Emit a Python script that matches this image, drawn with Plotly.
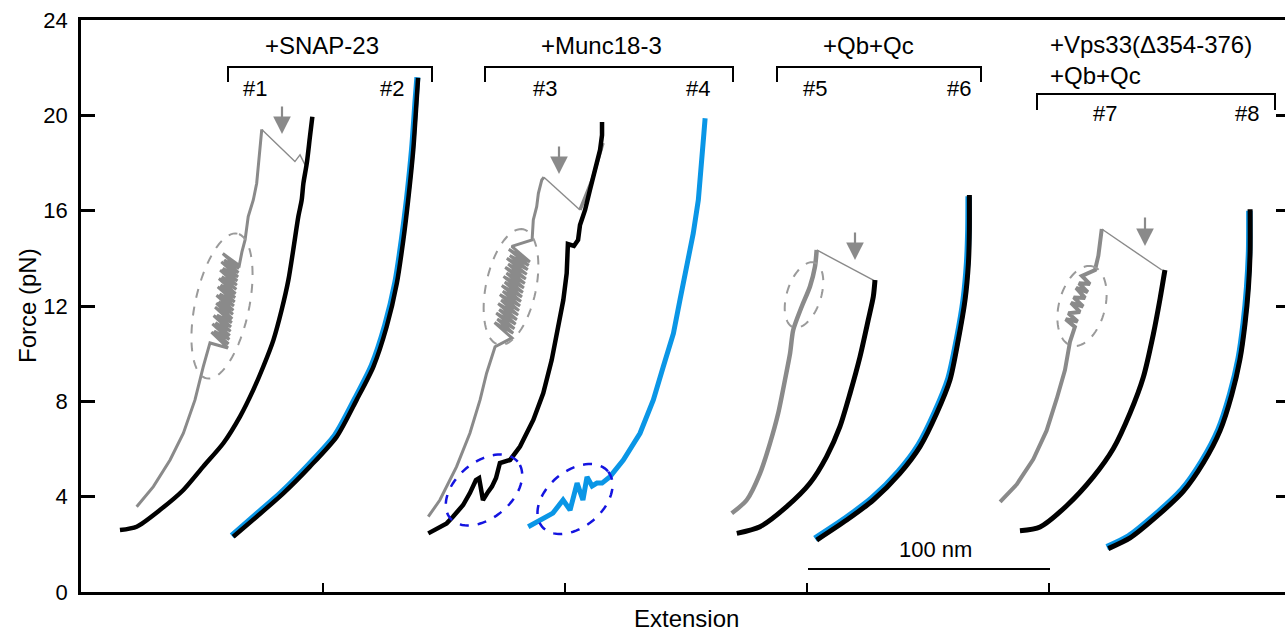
import numpy as np
import plotly.graph_objects as go

# ---------------- data: extension (nm) and force (pN) ----------------
# molecule #1 (gray: first pull, black: second pull)
g1_ext = [23.0, 29.9, 36.8, 42.3, 47.1, 50.5, 53.3,
          60.7, 53.9, 61.0, 55.0, 61.3, 54.3, 61.5, 55.6, 61.8, 54.8, 62.0, 56.2,
          62.3, 55.4, 62.5, 55.9, 62.8, 56.9, 63.0, 56.0, 63.2, 57.3, 63.5, 56.5,
          63.7, 57.7, 63.9, 57.0, 64.2, 58.2, 64.4, 57.5, 64.6, 58.6, 64.9, 58.0,
          65.1, 59.2, 65.3, 58.6, 65.4,
          66.5, 67.8, 69.1, 71.2, 72.6, 73.3, 74.0, 74.7]
g1_f = [3.58, 4.42, 5.54, 6.66, 8.06, 9.45, 10.45,
        10.24, 10.90, 10.41, 10.95, 10.60, 11.25, 10.76, 11.30, 10.94, 11.60, 11.12, 11.62,
        11.30, 11.95, 11.46, 12.12, 11.65, 12.18, 11.82, 12.45, 12.00, 12.50, 12.17, 12.80,
        12.35, 12.88, 12.52, 13.15, 12.70, 13.22, 12.88, 13.50, 13.05, 13.58, 13.22, 13.85,
        13.40, 13.93, 13.58, 14.20, 13.70,
        14.27, 14.77, 15.75, 16.45, 17.15, 17.85, 18.55, 19.41]
g1_relax_ext = [74.7, 88.4, 90.5, 92.6]
g1_relax_f = [19.41, 18.06, 18.34, 17.92]
k1_ext = [16.1, 23.0, 32.6, 42.3, 50.5, 58.8, 65.7, 71.2, 75.3, 79.5, 82.9, 85.7,
          87.7, 89.8, 91.2, 91.9, 93.3, 94.6, 95.6]
k1_f = [2.60, 2.74, 3.44, 4.28, 5.26, 6.24, 7.36, 8.48, 9.45, 10.57, 11.83, 13.09,
        14.35, 15.75, 16.45, 17.15, 17.99, 19.10, 19.94]

# molecule #2 (blue: first pull, black: second pull)
b2_ext = [62.3, 72.0, 83.0, 94.0, 105.0, 113.3, 120.2, 125.7, 129.9, 132.6, 134.7, 136.8, 138.3, 139.0]
b2_f = [2.36, 3.22, 4.20, 5.33, 6.58, 8.12, 9.52, 11.20, 13.00, 14.80, 16.50, 18.60, 20.70, 21.60]
k2_ext = [62.9, 72.6, 83.6, 94.6, 105.7, 113.9, 120.8, 126.3, 130.5, 133.2, 135.2, 137.3, 138.7, 139.3]
k2_f = [2.32, 3.16, 4.14, 5.26, 6.52, 8.06, 9.45, 11.13, 12.95, 14.77, 16.45, 18.55, 20.64, 21.57]

# molecule #3
g3_ext = [143.5, 148.3, 155.2, 160.7, 164.9, 167.6, 171.1,
          178.1, 170.9, 178.6, 172.0, 179.1, 171.6, 179.6, 172.8, 180.1, 172.4, 180.6, 173.6,
          181.0, 173.1, 181.4, 174.3, 181.8, 173.9, 182.2, 175.1, 182.6, 174.6, 183.0, 175.8,
          183.4, 175.3, 183.8, 176.5, 184.2, 176.0, 184.6, 177.2, 185.0, 176.8, 185.5, 178.0,
          186.4, 186.9, 188.3, 189.0, 190.4, 191.3]
g3_f = [3.16, 3.86, 5.26, 6.66, 8.06, 9.18, 10.29,
        10.66, 11.30, 10.86, 11.45, 11.05, 11.70, 11.24, 11.85, 11.43, 12.10, 11.62, 12.25,
        11.81, 12.48, 12.00, 12.62, 12.19, 12.86, 12.38, 13.00, 12.57, 13.24, 12.76, 13.38,
        12.95, 13.62, 13.14, 13.76, 13.33, 14.00, 13.52, 14.12, 13.70, 14.38, 13.85, 14.50,
        14.77, 15.61, 16.17, 16.73, 17.29, 17.40]
g3_relax_ext = [191.3, 206.2]
g3_relax_f = [17.40, 16.03]
g3_tail_ext = [206.2, 208.3, 211.2, 213.6, 215.7]
g3_tail_f = [16.03, 16.57, 17.29, 18.13, 18.84]
k3_ext = [143.5, 151.1, 153.7, 157.9, 160.7, 163.2, 164.5, 166.1, 168.2, 169.8, 171.5, 172.3,
          173.1, 177.3, 181.4, 186.9, 191.0, 194.5, 197.2, 199.3, 200.7, 200.8, 201.2, 203.7,
          205.4, 206.2, 208.3, 210.3, 212.4, 214.5, 215.3, 215.3]
k3_f = [2.46, 2.88, 3.16, 3.65, 4.15, 4.70, 4.78, 3.86, 4.20, 4.42, 4.78, 5.12,
        5.41, 5.54, 6.10, 7.22, 8.34, 9.73, 11.13, 12.25, 13.37, 14.35, 14.60, 14.52,
        14.77, 15.40, 16.03, 16.87, 17.71, 18.55, 19.17, 19.72]

# molecule #4
b4_ext = [184.8, 189.7, 195.0, 199.2, 202.1, 205.0, 207.4, 209.1, 211.2, 213.2, 215.3, 218.6,
          224.1, 231.0, 236.5, 240.6, 244.8, 247.5, 250.3, 253.0, 255.1, 256.5, 257.4, 257.9]
b4_f = [2.74, 3.02, 3.31, 3.86, 3.44, 4.57, 3.86, 4.83, 4.45, 4.57, 4.57, 4.84,
        5.54, 6.66, 8.06, 9.45, 10.85, 12.25, 13.65, 15.05, 16.45, 17.85, 19.25, 19.88]

# molecule #5
g5_ext = [268.9, 275.1, 280.6, 284.7, 288.1, 290.9, 293.0, 294.3, 297.8, 301.2, 303.3, 304.0]
g5_f = [3.30, 3.86, 4.98, 6.24, 7.50, 8.90, 10.01, 10.99, 11.97, 12.81, 13.65, 14.35]
g5_relax_ext = [304.0, 327.4]
g5_relax_f = [14.35, 13.09]
k5_ext = [271.0, 280.6, 291.6, 301.2, 308.1, 313.6, 317.8, 321.9, 325.3, 327.4, 328.1]
k5_f = [2.46, 2.74, 3.58, 4.56, 5.68, 6.94, 8.34, 9.87, 11.41, 12.39, 13.09]

# molecule #6
b6_ext = [303.3, 315.8, 326.8, 337.8, 346.1, 353.0, 358.5, 362.0, 364.8, 366.2, 366.7, 366.8]
b6_f = [2.24, 3.08, 3.92, 5.04, 6.16, 7.56, 8.96, 10.60, 12.30, 13.85, 15.20, 16.60]
k6_ext = [304.0, 316.4, 327.4, 338.4, 346.7, 353.6, 359.1, 362.5, 365.3, 366.7, 367.1, 367.1]
k6_f = [2.18, 3.02, 3.86, 4.98, 6.10, 7.50, 8.90, 10.57, 12.25, 13.79, 15.19, 16.66]

# molecule #7
g7_ext = [379.8, 386.7, 393.5, 399.0, 403.2, 406.6, 408.7, 410.7,
          406.9, 411.8, 408.0, 412.8, 409.1, 414.1, 410.2, 414.9, 411.2, 416.0, 412.4,
          416.9, 413.6, 419.0, 420.4, 421.1, 421.8]
g7_f = [3.78, 4.52, 5.57, 6.77, 8.11, 9.31, 10.51, 11.12,
        11.45, 11.35, 11.70, 11.75, 12.13, 11.98, 12.36, 12.34, 12.76, 12.58, 12.95,
        12.92, 13.26, 13.51, 14.11, 14.71, 15.23]
g7_relax_ext = [421.8, 446.6]
g7_relax_f = [15.23, 13.51]
k7_ext = [388.0, 396.3, 407.3, 418.3, 426.6, 433.5, 439.0, 443.1, 445.9, 447.9]
k7_f = [2.57, 2.73, 3.62, 4.83, 6.02, 7.51, 9.02, 10.81, 12.31, 13.51]

# molecule #8
b8_ext = [423.9, 432.9, 443.9, 454.9, 463.2, 470.1, 474.9, 478.4, 480.5, 481.9, 482.7, 482.8]
b8_f = [1.88, 2.33, 3.23, 4.28, 5.48, 6.82, 8.30, 9.80, 11.30, 12.80, 14.30, 16.00]
k8_ext = [424.5, 433.5, 444.5, 455.5, 463.8, 470.7, 475.5, 478.9, 481.0, 482.4, 483.1, 483.1]
k8_f = [1.82, 2.27, 3.17, 4.22, 5.42, 6.77, 8.27, 9.76, 11.26, 12.76, 14.27, 16.06]

y_ticks = [0, 4, 8, 12, 16, 20, 24]
x_ticks = [100, 200, 300, 400]
group_labels = ["+SNAP-23", "+Munc18-3", "+Qb+Qc", "+Vps33(\u0394354-376)"]
trace_labels = ["#1", "#2", "#3", "#4", "#5", "#6", "#7", "#8"]

# ---------------- styling ----------------
GRAY = "#8a8a8a"
BLUE = "#0a96e6"
BLACK = "#000000"
FONT = "Liberation Sans, Arial, sans-serif"

W, H = 1285, 633
L, R, T, B = 81, 0, 20, 41
X_MAX = (W - L - R) / 2.42
Y_MAX = 24
PX_NM = (W - L - R) / X_MAX
PX_PN = (H - T - B) / Y_MAX


def dx(px):
    return (px - L) / PX_NM


def dy(py):
    return (H - B - py) / PX_PN


fig = go.Figure()


def line(x, y, color, width, smooth=False):
    ln = dict(color=color, width=width)
    if smooth:
        ln.update(shape="spline", smoothing=0.7)
    fig.add_trace(go.Scatter(x=x, y=y, mode="lines", showlegend=False, hoverinfo="skip",
                             line=ln))


# gray (first pulls)
line(g1_ext, g1_f, GRAY, 3)
line(g1_relax_ext, g1_relax_f, GRAY, 1.4)
line(g3_ext, g3_f, GRAY, 3)
line(g3_relax_ext, g3_relax_f, GRAY, 1.4)
line(g3_tail_ext, g3_tail_f, GRAY, 3.5)
line(g5_ext, g5_f, GRAY, 4.5, True)
line(g5_relax_ext, g5_relax_f, GRAY, 1.4)
line(g7_ext, g7_f, GRAY, 4)
line(g7_relax_ext, g7_relax_f, GRAY, 1.4)
# blue
line(b2_ext, b2_f, BLUE, 6, True)
line(b4_ext, b4_f, BLUE, 5)
line(b6_ext, b6_f, BLUE, 6.5, True)
line(b8_ext, b8_f, BLUE, 6.5, True)
# black
line(k1_ext, k1_f, BLACK, 4.5, True)
line(k2_ext, k2_f, BLACK, 4.5, True)
line(k3_ext, k3_f, BLACK, 4.5)
line(k5_ext, k5_f, BLACK, 5, True)
line(k6_ext, k6_f, BLACK, 5, True)
line(k7_ext, k7_f, BLACK, 5, True)
line(k8_ext, k8_f, BLACK, 5, True)
# carrier for the right-hand tick axis
fig.add_trace(go.Scatter(x=[None], y=[None], yaxis="y2", showlegend=False, hoverinfo="skip"))

shapes = []


def ellipse(cx, cy, a, b, theta, color, width):
    t = np.linspace(0, 2 * np.pi, 81)
    th = np.radians(theta)
    px = cx + a * np.cos(th) * np.cos(t) - b * np.sin(th) * np.sin(t)
    py = cy - (a * np.sin(th) * np.cos(t) + b * np.cos(th) * np.sin(t))
    pts = " L ".join(f"{dx(u):.3f},{dy(v):.3f}" for u, v in zip(px, py))
    shapes.append(dict(type="path", path="M " + pts + " Z", xref="x", yref="y",
                       line=dict(color=color, width=width, dash="dash")))


EG = "#9a9a9a"
ellipse(222, 306, 74, 27, 78, EG, 2)
ellipse(511, 287, 59, 25, 78, EG, 2)
ellipse(804, 295, 34, 17, 72, EG, 2)
ellipse(1082, 306, 41, 23, 75, EG, 2)
EB = "#1414e0"
ellipse(484, 490, 44, 28, 40, EB, 2.5)
ellipse(575, 499, 43, 28, 40, EB, 2.5)


def bracket(x0, x1, yl, ye):
    shapes.append(dict(type="path", xref="x", yref="y",
                       path=f"M {dx(x0)},{dy(ye)} L {dx(x0)},{dy(yl)} L {dx(x1)},{dy(yl)} L {dx(x1)},{dy(ye)}",
                       line=dict(color="black", width=2)))


bracket(228, 432, 67, 82)
bracket(485, 733, 67, 82)
bracket(777, 981, 67, 82)
bracket(1037, 1275, 94, 110)

# scale bar (100 nm)
shapes.append(dict(type="line", xref="x", yref="y", x0=dx(808), x1=dx(808) + 100,
                   y0=dy(569), y1=dy(569), line=dict(color="black", width=2)))

ann = []


def text(s, px, py, size, xanchor="center"):
    ann.append(dict(text=s, x=dx(px), y=dy(py), xref="x", yref="y", showarrow=False,
                    xanchor=xanchor, yanchor="middle", font=dict(family=FONT, size=size, color="black")))


text(group_labels[0], 322, 45, 24)
text(group_labels[1], 601, 45, 24)
text(group_labels[2], 868, 45, 24)
text(group_labels[3], 1048, 44, 24, "left")
text(group_labels[2], 1048, 75, 24, "left")
for lab, px, py in zip(trace_labels,
                       [255, 392, 545, 698, 815, 959, 1105, 1247],
                       [88, 88, 88, 88, 88, 88, 113, 113]):
    text(lab, px, py, 22)
text("100 nm", 935, 549, 22)

# arrows
for px, py0, py1 in [(282, 105, 134), (559, 145, 174), (855, 231, 260), (1145, 216, 246)]:
    ann.append(dict(x=dx(px), y=dy(py1), xref="x", yref="y", ax=0, ay=-(py1 - py0),
                    axref="pixel", ayref="pixel", showarrow=True, arrowhead=2,
                    arrowsize=1.6, arrowwidth=2.2, arrowcolor=GRAY, text=""))

# axis titles
ann.append(dict(text="Force (pN)", x=-(L - 27) / (W - L - R), y=dy(306) / Y_MAX, xref="paper", yref="paper",
                showarrow=False, textangle=-90, xanchor="center", yanchor="middle",
                font=dict(family=FONT, size=24, color="black")))
ann.append(dict(text="Extension", x=dx(686) / X_MAX, y=-(618 - (H - B)) / (H - T - B), xref="paper", yref="paper",
                showarrow=False, xanchor="center", yanchor="middle",
                font=dict(family=FONT, size=24, color="black")))

fig.update_layout(
    width=W, height=H,
    margin=dict(l=L, r=R, t=T, b=B, pad=0),
    plot_bgcolor="white", paper_bgcolor="white",
    shapes=shapes, annotations=ann,
    xaxis=dict(range=[0, X_MAX], tickvals=x_ticks, showticklabels=False, ticks="inside",
               ticklen=9, tickwidth=2, tickcolor="black", showline=True, linewidth=2.5,
               linecolor="black", mirror=True, showgrid=False, zeroline=False),
    yaxis=dict(range=[0, Y_MAX], tickvals=y_ticks, ticks="inside", ticklen=14, tickwidth=2.5,
               tickcolor="black", showline=True, linewidth=2.5, linecolor="black", mirror=False,
               showgrid=False, zeroline=False, ticklabelstandoff=6,
               tickfont=dict(family=FONT, size=22, color="black")),
    yaxis2=dict(range=[0, Y_MAX], tickvals=y_ticks, ticks="inside", ticklen=9, tickwidth=2.5,
                tickcolor="black", showline=False, showticklabels=False, showgrid=False,
                zeroline=False, overlaying="y", side="right"),
)

fig.write_html("out.html", config={"displayModeBar": False},
               post_script="document.body.style.margin='0';")
